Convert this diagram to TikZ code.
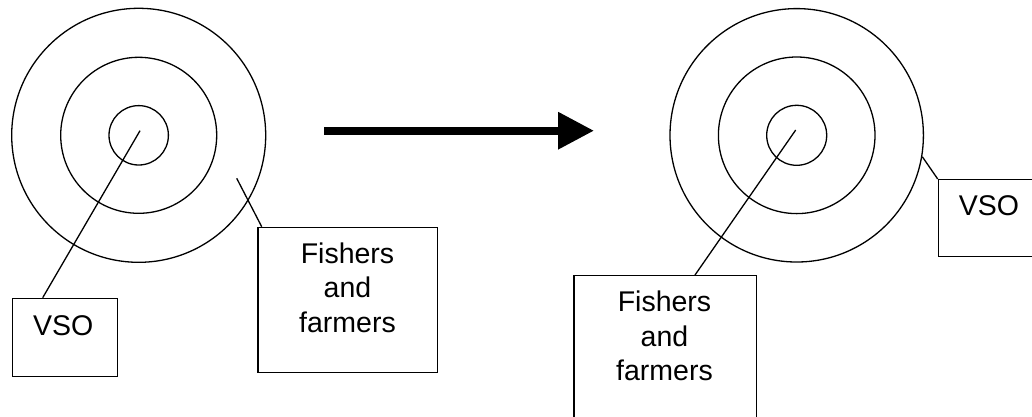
\documentclass[tikz,border=0pt]{standalone}
\usepackage{fontspec}
\setmainfont{Liberation Sans}
\usetikzlibrary{arrows.meta}
\begin{document}
\begin{tikzpicture}[x=1pt,y=-1pt,
  ring/.style={draw, circle, line width=1.3pt, inner sep=0pt},
  labbox/.style={draw, rectangle, line width=1.4pt, inner sep=0pt, anchor=north west},
  labtext/.style={align=center, inner sep=0pt, font=\fontsize{28.5}{34.5}\selectfont},
  leader/.style={line width=1.3pt}]
\useasboundingbox (0,0) rectangle (1032,416);
\clip (0,0) rectangle (1032,416);
% left target
\node[ring, minimum size=254pt] (Lout) at (138.7,135.3) {};
\node[ring, minimum size=156pt] (Lmid) at (138.7,135.3) {};
\node[ring, minimum size=59.4pt] (Lin) at (138.7,135.3) {};
% right target
\node[ring, minimum size=253.4pt] (Rout) at (796.7,135.3) {};
\node[ring, minimum size=156.6pt] (Rmid) at (796.7,135.3) {};
\node[ring, minimum size=60pt] (Rin) at (796.7,135.3) {};
% left boxes
\node[labbox, minimum width=105pt, minimum height=78.3pt] (LV) at (11.7,297.7) {};
\node[labtext] (LVt) at (63.3,326) {VSO};
\node[labbox, minimum width=179.7pt, minimum height=145pt] (LF) at (257.3,226.7) {};
\node[labtext, anchor=north] (LFt) at (347.5,242.5) {Fishers\\and\\farmers};
% right boxes
\node[labbox, minimum width=182.7pt, minimum height=160pt] (RF) at (573.3,275) {};
\node[labtext, anchor=north] (RFt) at (664.5,291) {Fishers\\and\\farmers};
\node[labbox, minimum width=110pt, minimum height=76.7pt] (RV) at (937.7,179) {};
\node[labtext] (RVt) at (989,206) {VSO};
% leader lines
\coordinate (Lc) at (140,130.7);
\coordinate (Lo) at (236.7,178.3);
\coordinate (Rc) at (795.7,130);
\coordinate (Ro) at (922.3,156.7);
\draw[leader] (Lc) -- (LV.north west -| 42.7,0);
\draw[leader] (Lo) -- (LF.north west -| 261.7,0);
\draw[leader] (Rc) -- (RF.north west -| 695,0);
\draw[leader] (Ro) -- (RV.north west);
% big arrow
\coordinate (As) at (324,130.7);
\coordinate (Ae) at (594,130.7);
\draw[line width=7.7pt, -{Triangle[length=36pt,width=35.6pt]}] (As) -- (Ae);
\end{tikzpicture}
\end{document}
